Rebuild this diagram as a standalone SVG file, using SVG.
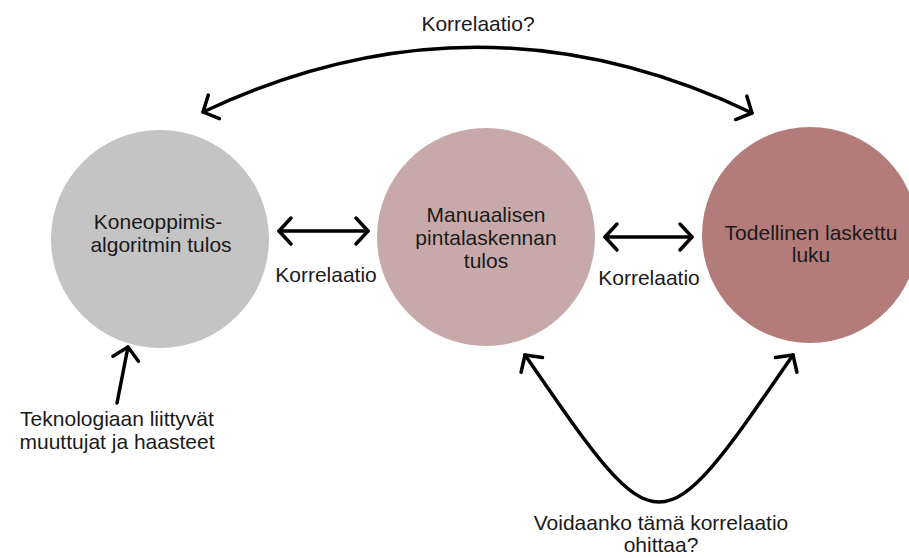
<svg xmlns="http://www.w3.org/2000/svg" width="909" height="558" viewBox="0 0 909 558">
<style>
.t{font-family:"Liberation Sans","DejaVu Sans",sans-serif;font-size:21px;fill:#1a1a1a;text-anchor:middle}
.c{fill:none;stroke:#000;stroke-width:3.5;stroke-linecap:round;stroke-linejoin:round}
</style>
<defs>
<marker id="ah" viewBox="-16 -16 20 32" refX="0" refY="0" markerWidth="20" markerHeight="32" markerUnits="userSpaceOnUse" orient="auto-start-reverse" overflow="visible">
<path d="M-12,-13 L0,0 L-12,13" fill="none" stroke="#000" stroke-width="3.5" stroke-linecap="round" stroke-linejoin="round"/>
</marker>
</defs>
<rect width="909" height="558" fill="#fff"/>
<g id="node-ml">
<circle cx="160" cy="239" r="109" fill="#c4c4c4"/>
<text class="t" x="158" y="229">Koneoppimis-</text>
<text class="t" x="161" y="252">algoritmin tulos</text>
</g>
<g id="node-manual">
<circle cx="486" cy="237" r="109" fill="#c8a9aa"/>
<text class="t" x="486" y="222">Manuaalisen</text>
<text class="t" x="486" y="245">pintalaskennan</text>
<text class="t" x="486" y="268">tulos</text>
</g>
<g id="node-true">
<circle cx="810" cy="235" r="108" fill="#b37c7b"/>
<text class="t" x="811" y="240">Todellinen laskettu</text>
<text class="t" x="811" y="262">luku</text>
</g>
<g id="node-tech">
<text class="t" x="117" y="426">Teknologiaan liittyvät</text>
<text class="t" x="117" y="449">muuttujat ja haasteet</text>
</g>
<g id="connectors">
<path class="c" d="M203,112 Q478,-18 752,113" marker-start="url(#ah)" marker-end="url(#ah)"/>
<path class="c" d="M279,231 L368,231" marker-start="url(#ah)" marker-end="url(#ah)"/>
<path class="c" d="M605,237 L692,237" marker-start="url(#ah)" marker-end="url(#ah)"/>
<path class="c" d="M117,403 L128,347" marker-end="url(#ah)"/>
<path class="c" d="M525,355 C660,551 658,551 793,355" marker-start="url(#ah)" marker-end="url(#ah)"/>
</g>
<g id="labels">
<text class="t" x="478" y="31">Korrelaatio?</text>
<text class="t" x="326" y="282">Korrelaatio</text>
<text class="t" x="649" y="285">Korrelaatio</text>
<text class="t" x="661" y="530">Voidaanko tämä korrelaatio</text>
<text class="t" x="661" y="552">ohittaa?</text>
</g>
</svg>
